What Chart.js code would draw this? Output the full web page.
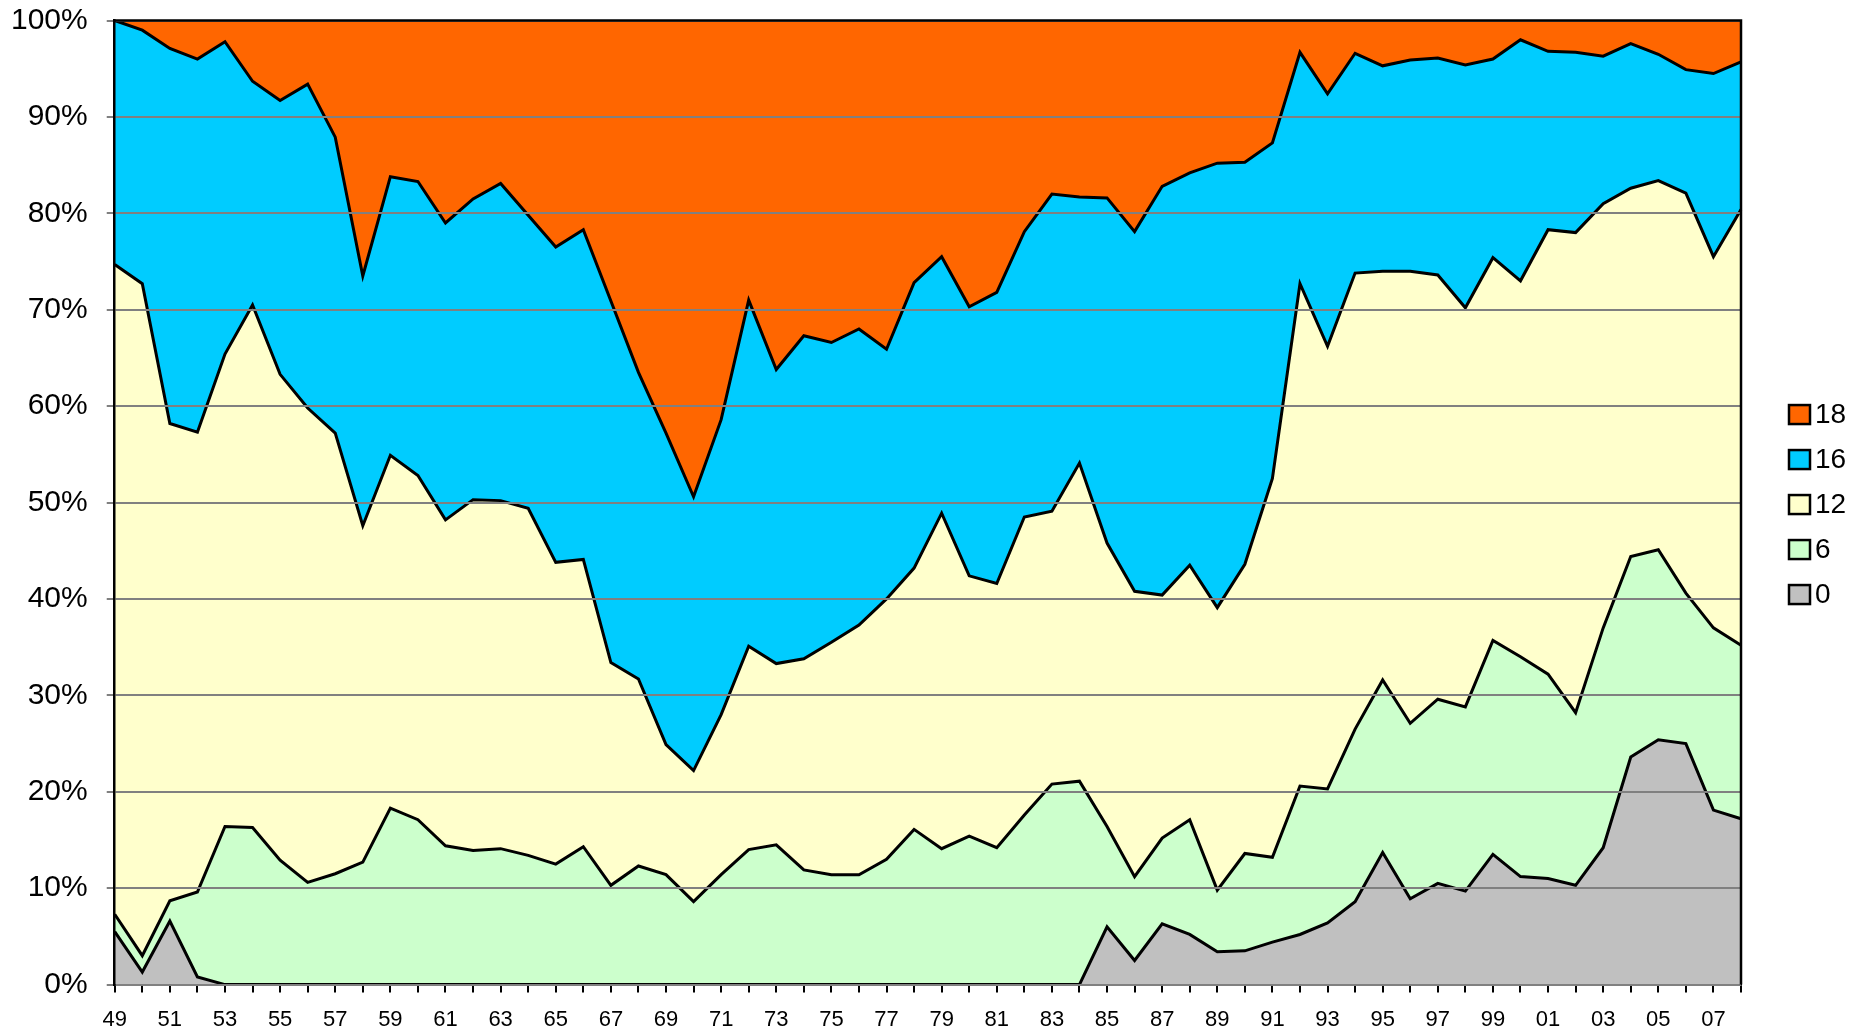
<!DOCTYPE html>
<html>
<head>
<meta charset="utf-8">
<script src="https://cdn.jsdelivr.net/npm/chart.js@4.4.1/dist/chart.umd.min.js"></script>
<style>
  html, body { margin: 0; padding: 0; background: #fff; }
  #chart { display: block; }
</style>
</head>
<body>
<canvas id="chart" width="1872" height="1035"></canvas>
<script>
// years 1949 - 2008, two digit labels
const years = ['49','50','51','52','53','54','55','56','57','58','59',
  '60','61','62','63','64','65','66','67','68','69',
  '70','71','72','73','74','75','76','77','78','79',
  '80','81','82','83','84','85','86','87','88','89',
  '90','91','92','93','94','95','96','97','98','99',
  '00','01','02','03','04','05','06','07','08'];

// share of each group, percent (stacks to 100)
const share0 = [5.5, 1.3, 6.6, 0.8, 0, 0, 0, 0, 0, 0, 0,
  0, 0, 0, 0, 0, 0, 0, 0, 0, 0,
  0, 0, 0, 0, 0, 0, 0, 0, 0, 0,
  0, 0, 0, 0, 0, 6.0, 2.5, 6.3, 5.2, 3.4,
  3.5, 4.4, 5.2, 6.4, 8.6, 13.7, 8.9, 10.5, 9.7, 13.5,
  11.2, 11.0, 10.3, 14.2, 23.6, 25.4, 25.0, 18.1, 17.2];

const share6 = [1.8, 1.7, 2.1, 8.8, 16.4, 16.3, 12.9, 10.6, 11.5, 12.7, 18.3,
  17.1, 14.4, 13.9, 14.1, 13.4, 12.5, 14.3, 10.3, 12.3, 11.4,
  8.6, 11.4, 14.0, 14.5, 11.9, 11.4, 11.4, 13.0, 16.1, 14.1,
  15.4, 14.2, 17.6, 20.8, 21.1, 10.4, 8.7, 8.9, 11.9, 6.4,
  10.1, 8.8, 15.4, 13.9, 17.9, 17.9, 18.2, 19.1, 19.1, 22.2,
  22.8, 21.2, 17.9, 22.8, 20.8, 19.7, 15.6, 18.9, 18.0];

const share12 = [67.4, 69.7, 49.5, 47.7, 49.0, 54.2, 50.4, 49.2, 45.7, 34.9, 36.6,
  35.7, 33.8, 36.4, 36.1, 36.0, 31.3, 29.8, 23.1, 19.4, 13.5,
  13.6, 16.6, 21.1, 18.8, 21.9, 24.1, 25.9, 27.0, 27.1, 34.8,
  27.0, 27.4, 30.9, 28.3, 33.0, 29.4, 29.6, 25.2, 26.4, 29.3,
  30.0, 39.3, 52.1, 45.9, 47.3, 42.4, 46.9, 44.0, 41.4, 39.7,
  39.0, 46.1, 49.8, 44.0, 38.2, 38.3, 41.5, 38.5, 45.2];

const share16 = [25.3, 26.3, 38.9, 38.7, 32.4, 23.2, 28.4, 33.6, 30.7, 25.9, 28.9,
  30.5, 30.8, 31.2, 32.9, 30.4, 32.7, 34.2, 37.5, 31.8, 32.3,
  28.4, 30.6, 35.9, 30.5, 33.5, 31.1, 30.7, 25.9, 29.6, 26.6,
  27.9, 30.2, 29.6, 32.9, 27.6, 35.8, 37.3, 42.4, 40.7, 46.1,
  41.7, 34.8, 24.0, 26.2, 22.8, 21.3, 21.9, 22.5, 25.2, 20.6,
  25.0, 18.5, 18.7, 15.3, 15.0, 13.1, 12.8, 19.0, 15.3];

const share18 = [0, 1.0, 2.9, 4.0, 2.2, 6.3, 8.3, 6.6, 12.1, 26.5, 16.2,
  16.7, 21.0, 18.5, 16.9, 20.2, 23.5, 21.7, 29.1, 36.5, 42.8,
  49.4, 41.4, 29.0, 36.2, 32.7, 33.4, 32.0, 34.1, 27.2, 24.5,
  29.7, 28.2, 21.9, 18.0, 18.3, 18.4, 21.9, 17.2, 15.8, 14.8,
  14.7, 12.7, 3.3, 7.6, 3.4, 4.7, 4.1, 3.9, 4.6, 4.0,
  2.0, 3.2, 3.3, 3.7, 2.4, 3.5, 5.1, 5.5, 4.3];

const seriesNames = ['0', '6', '12', '16', '18'];
const seriesData = [share0, share6, share12, share16, share18];
const seriesColors = ['#C0C0C0', '#CCFFCC', '#FFFFCC', '#00CCFF', '#FF6600'];

const FONT = '"Liberation Sans", Arial, sans-serif';

// black frame on top and right of the plot
const frame = {
  id: 'frame',
  afterDraw(chart) {
    const { ctx, chartArea: a } = chart;
    ctx.save();
    ctx.strokeStyle = '#000';
    ctx.lineWidth = 2.5;
    ctx.beginPath();
    ctx.moveTo(a.left, a.top);
    ctx.lineTo(a.right, a.top);
    ctx.lineTo(a.right, a.bottom);
    ctx.stroke();
    ctx.restore();
  }
};

// legend to the right, 18 on top, tight box/text gap like the original
const sideLegend = {
  id: 'sideLegend',
  afterDraw(chart) {
    const { ctx, chartArea: a } = chart;
    const items = chart.data.datasets.slice().reverse();
    const step = 45;
    const boxW = 21, boxH = 19;
    const x = a.right + 48;
    const mid = (a.top + a.bottom) / 2 + 2;
    const y0 = mid - step * (items.length - 1) / 2;
    ctx.save();
    ctx.font = '28px ' + FONT;
    ctx.textBaseline = 'middle';
    items.forEach((ds, i) => {
      const y = y0 + i * step;
      ctx.fillStyle = ds.backgroundColor;
      ctx.fillRect(x, y - boxH / 2, boxW, boxH);
      ctx.strokeStyle = '#000';
      ctx.lineWidth = 2.5;
      ctx.strokeRect(x, y - boxH / 2, boxW, boxH);
      ctx.fillStyle = '#000';
      ctx.fillText(ds.label, x + boxW + 5, y + 1);
    });
    ctx.restore();
  }
};

const datasets = seriesNames.map((name, i) => ({
  label: name,
  data: seriesData[i],
  backgroundColor: seriesColors[i],
  borderColor: '#000',
  borderWidth: 3,
  pointRadius: 0,
  tension: 0,
  fill: i === 0 ? 'origin' : '-1'
}));

new Chart(document.getElementById('chart'), {
  type: 'line',
  data: { labels: years, datasets: datasets },
  plugins: [frame, sideLegend],
  options: {
    responsive: false,
    animation: false,
    layout: { padding: { left: -8, top: 0, right: 131, bottom: -12 } },
    plugins: {
      filler: { drawTime: 'beforeDatasetsDraw' },
      tooltip: { enabled: false },
      legend: { display: false }
    },
    scales: {
      x: {
        offset: false,
        grid: {
          drawOnChartArea: false,
          color: '#000',
          lineWidth: 2,
          tickLength: 8
        },
        border: { color: '#000', width: 2.5 },
        ticks: {
          autoSkip: false,
          maxRotation: 0,
          padding: 14,
          color: '#000',
          font: { family: FONT, size: 22 },
          callback(value, index) {
            return index % 2 === 0 ? years[index] : '';
          }
        }
      },
      y: {
        stacked: true,
        min: 0,
        max: 100,
        grid: {
          color: '#808080',
          lineWidth: 2,
          tickLength: 8,
          z: 1
        },
        border: { color: '#000', width: 2.5, z: 2 },
        ticks: {
          stepSize: 10,
          padding: 19,
          color: '#000',
          font: { family: FONT, size: 30, lineHeight: 0.1 },
          callback: (v) => v + '%'
        }
      }
    }
  }
});
</script>
</body>
</html>
